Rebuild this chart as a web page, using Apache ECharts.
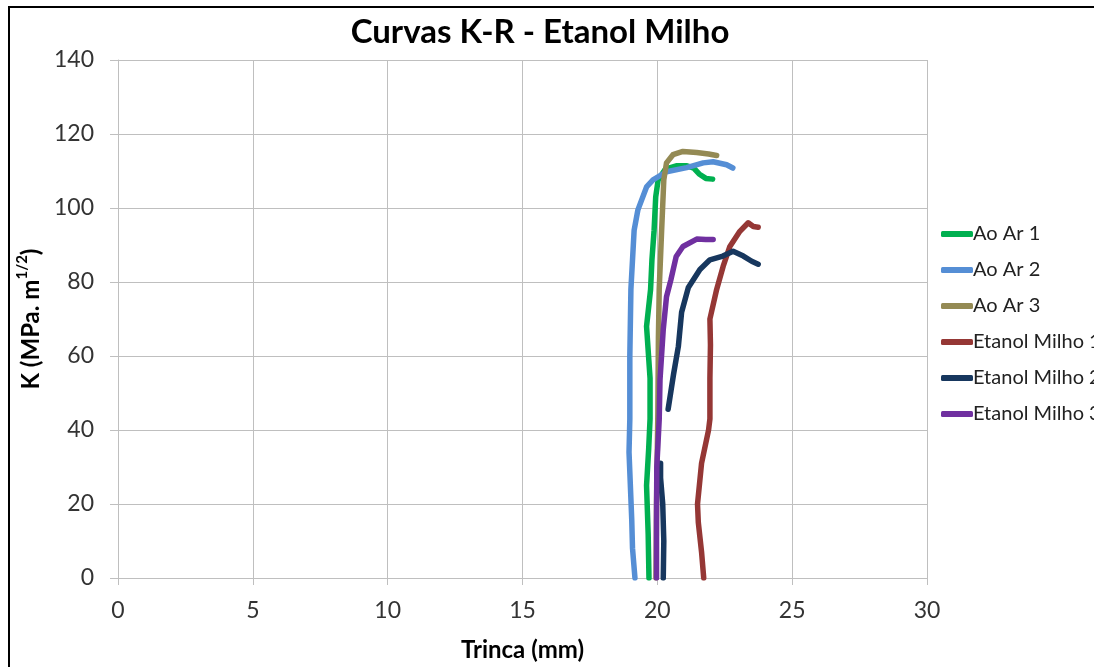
<!DOCTYPE html>
<html>
<head>
<meta charset="utf-8">
<script src="https://cdn.jsdelivr.net/npm/echarts@6/dist/echarts.min.js"></script>
<style>
  html, body { margin: 0; padding: 0; background: #fff; }
  #chart { width: 1094px; height: 667px; }
</style>
</head>
<body>
<div id="chart"></div>
<script>
// Curvas K-R: [trinca (mm), K (MPa.m^1/2)]
const aoAr1 = [
  [19.69, 0], [19.66, 12], [19.6, 25], [19.68, 35], [19.73, 43], [19.73, 54],
  [19.6, 68], [19.75, 78], [19.8, 86], [19.88, 94], [19.94, 103], [20.03, 107.6],
  [20.3, 110.5], [20.7, 111.4], [21.1, 111.4], [21.35, 110.8], [21.55, 109.2],
  [21.8, 108], [22.05, 107.8]
];
const aoAr2 = [
  [19.17, 0], [19.08, 8], [19.05, 16], [18.95, 34], [18.98, 43], [18.98, 60],
  [19.02, 78], [19.14, 94], [19.28, 99.5], [19.6, 105.7], [19.84, 107.6],
  [20.34, 109.8], [21.09, 110.9], [21.7, 112.2], [22.07, 112.5], [22.57, 111.7],
  [22.8, 110.8]
];
const aoAr3 = [
  [19.95, 0], [19.97, 20], [20.02, 45], [20.04, 65], [20.07, 78], [20.16, 94],
  [20.24, 107.6], [20.34, 112.2], [20.58, 114.4], [20.95, 115.3], [21.46, 115],
  [21.9, 114.6], [22.2, 114.2]
];
const etanolMilho1 = [
  [21.72, 0], [21.64, 7], [21.52, 15], [21.49, 20], [21.64, 31], [21.9, 40],
  [21.95, 43], [21.95, 54], [21.97, 63], [21.95, 70], [22.2, 78], [22.44, 84.2],
  [22.69, 89.6], [23.06, 93.7], [23.37, 96], [23.56, 95], [23.74, 94.8]
];
const etanolMilho2 = [
  [20.22, 0], [20.24, 10], [20.2, 20], [20.12, 27], [20.12, 31],
  ['-', '-'],
  [20.4, 45.6], [20.6, 55], [20.78, 62.6], [20.9, 71.8], [21.15, 78.5],
  [21.58, 83.4], [21.95, 86], [22.43, 87], [22.81, 88.3], [23.19, 87],
  [23.5, 85.6], [23.74, 84.8]
];
const etanolMilho3 = [
  [19.97, 0], [19.97, 15], [19.98, 30], [20.07, 42.9], [20.1, 53.7],
  [20.22, 67.2], [20.34, 76], [20.5, 80.5], [20.7, 86.9], [20.95, 89.6],
  [21.46, 91.6], [21.8, 91.5], [22.07, 91.5]
];

const seriesNames = ['Ao Ar 1', 'Ao Ar 2', 'Ao Ar 3', 'Etanol Milho 1', 'Etanol Milho 2', 'Etanol Milho 3'];
const seriesData = [aoAr1, aoAr2, aoAr3, etanolMilho1, etanolMilho2, etanolMilho3];
const seriesColors = ['#00b050', '#558ed5', '#948a54', '#953735', '#17375e', '#7030a0'];

const font = 'Lato, "Open Sans", sans-serif';

const chart = echarts.init(document.getElementById('chart'));

const option = {
  backgroundColor: '#fff',
  animation: false,
  graphic: [{
    type: 'rect',
    shape: { x: 9, y: 7, width: 1200, height: 700 },
    style: { fill: 'none', stroke: '#000', lineWidth: 2 },
    z: -1
  }],
  title: {
    text: 'Curvas K-R - Etanol Milho',
    left: 535,
    textAlign: 'center',
    top: 11,
    textStyle: { fontFamily: font, fontSize: 33, fontWeight: 'bold', color: '#000' }
  },
  legend: {
    orient: 'vertical',
    left: 936,
    top: 219,
    itemWidth: 32,
    itemHeight: 6,
    itemGap: 16,
    icon: 'roundRect',
    textStyle: { fontFamily: font, fontSize: 20, color: '#222', padding: [0, 0, 0, -5] },
    data: seriesNames
  },
  grid: { left: 118, top: 60, right: 167, bottom: 88 },
  xAxis: {
    type: 'value',
    min: 0, max: 30, interval: 5,
    name: 'Trinca (mm)',
    nameLocation: 'middle',
    nameGap: 60,
    nameTextStyle: { fontFamily: font, fontSize: 24, fontWeight: 'bold', color: '#000' },
    axisLine: { show: true, lineStyle: { color: '#bfbfbf', width: 1 } },
    axisTick: { show: true, length: 7, lineStyle: { color: '#bfbfbf' } },
    axisLabel: { fontFamily: font, fontSize: 23, color: '#333', margin: 21 },
    splitLine: { show: true, lineStyle: { color: '#bfbfbf', width: 1 } }
  },
  yAxis: {
    type: 'value',
    min: 0, max: 140, interval: 20,
    name: '{b|K (MPa. m}{s|1/2}{b|)}',
    nameLocation: 'middle',
    nameGap: 70,
    nameRotate: 90,
    nameTextStyle: {
      rich: {
        b: { fontFamily: font, fontSize: 24, fontWeight: 'bold', color: '#000', lineHeight: 28, verticalAlign: 'bottom' },
        s: { fontFamily: font, fontSize: 15, fontWeight: 'bold', color: '#000', lineHeight: 28, verticalAlign: 'top' }
      }
    },
    axisLine: { show: true, lineStyle: { color: '#bfbfbf', width: 1 } },
    axisTick: { show: true, length: 8, lineStyle: { color: '#bfbfbf' } },
    axisLabel: { fontFamily: font, fontSize: 23, color: '#333', margin: 24 },
    splitLine: { show: true, lineStyle: { color: '#bfbfbf', width: 1 } }
  },
  series: seriesNames.map((name, i) => ({
    name: name,
    type: 'line',
    data: seriesData[i],
    showSymbol: false,
    symbol: 'none',
    connectNulls: false,
    color: seriesColors[i],
    lineStyle: { width: 5.5, color: seriesColors[i], cap: 'round', join: 'round' }
  }))
};

chart.setOption(option);
</script>
</body>
</html>
